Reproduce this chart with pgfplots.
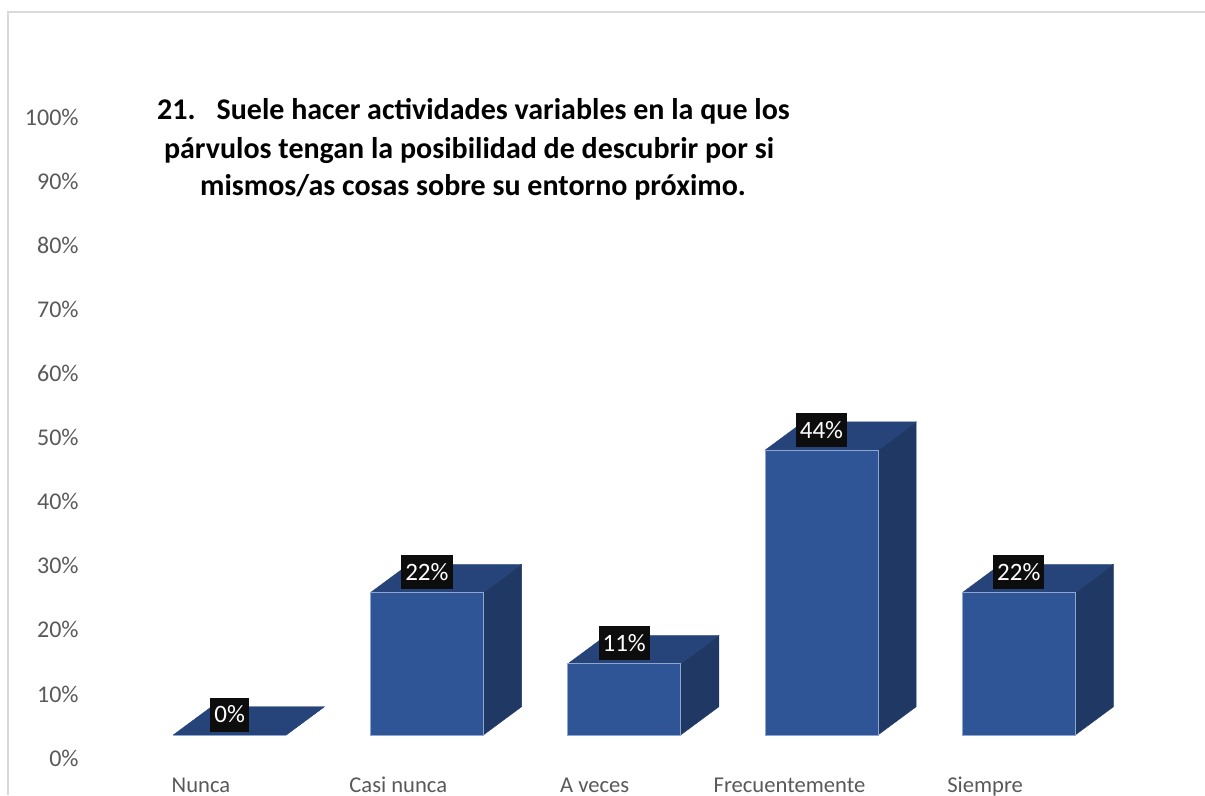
\documentclass[border=0pt]{standalone}
\usepackage{fontspec}
\setmainfont{Carlito}
\usepackage{pgfplots}
\usepackage{pgfplotstable}
\pgfplotsset{compat=1.18}

\definecolor{frontc}{HTML}{2F5597}
\definecolor{topc}{HTML}{264479}
\definecolor{sidec}{HTML}{1F3864}
\definecolor{edgec}{HTML}{8DA6D2}
\definecolor{labgray}{HTML}{595959}
\definecolor{framec}{HTML}{D9D9D9}

% 1 px of the reference = 0.5pt
\def\hw{0.2859}  % half bar width (axis units)
\def\dx{0.1941}  % depth offset in x
\def\dy{4.415}   % depth offset in y (percent)

\pgfplotstableread{
x y
0 0
1 22.22
2 11.11
3 44.44
4 22.22
}\datatable

% side and top faces of a 3d bar
\newcommand{\barfaces}[2]{%
  \pgfmathsetmacro\xl{#1-\hw}%
  \pgfmathsetmacro\xr{#1+\hw}%
  \pgfmathsetmacro\xlb{#1-\hw+\dx}%
  \pgfmathsetmacro\xrb{#1+\hw+\dx}%
  \pgfmathsetmacro\vt{#2+\dy}%
  \edef\temp{%
    \noexpand\addplot[fill=sidec,draw=sidec,line width=0.2pt] coordinates {(\xr,0) (\xrb,\dy) (\xrb,\vt) (\xr,#2)} --cycle;
    \noexpand\addplot[fill=topc,draw=topc,line width=0.2pt] coordinates {(\xl,#2) (\xr,#2) (\xrb,\vt) (\xlb,\vt)} --cycle;
  }\temp
}

\begin{document}
\begin{tikzpicture}
\begin{axis}[
  width=602.5pt, height=397.5pt, scale only axis,
  xmin=-1.16371, xmax=4.94374, ymin=-9.360, ymax=114.665,
  axis line style={draw=none}, tick style={draw=none},
  ytick={-3.59,6.41,16.41,26.41,36.41,46.41,56.41,66.41,76.41,86.41,96.41},
  yticklabels={0\%,10\%,20\%,30\%,40\%,50\%,60\%,70\%,80\%,90\%,100\%},
  yticklabel style={anchor=east, inner sep=0pt, xshift=39.5pt, text=labgray,
    font=\fontsize{12}{14}\selectfont},
  xtick={-0.145,0.855,1.850,2.838,3.829},
  xticklabels={Nunca,Casi nunca,A veces,Frecuentemente,Siempre},
  xticklabel style={anchor=base, inner sep=0pt, yshift=1.2pt, text=labgray,
    font=\fontsize{11.3}{13}\selectfont},
  clip=false,
]
\coordinate (bl) at (rel axis cs:0,0);
\coordinate (tr) at (rel axis cs:1,1);
\draw[framec, line width=0.8pt] (rel axis cs:0.00664,0) -- (rel axis cs:0.00664,0.98491) -- (rel axis cs:1.01,0.98491);

\barfaces{0}{0}
\barfaces{1}{22.22}
\barfaces{2}{11.11}
\barfaces{3}{44.44}
\barfaces{4}{22.22}

\addplot[ybar, bar width=0.5718, fill=frontc, draw=edgec, line width=0.3pt,
  nodes near coords={\pgfmathprintnumber[fixed,precision=0,assume math mode=true]{\pgfplotspointmeta}\%},
  every node near coord/.append style={fill=black!95, text=white, anchor=center,
    yshift=10.25pt, inner xsep=2pt, inner ysep=0pt, minimum height=17pt,
    font=\fontsize{12.5}{14}\selectfont}]
  table[x=x, y=y] {\datatable};

\node[anchor=base, font=\fontsize{15}{18}\selectfont\bfseries] at (rel axis cs:0.39295,0.84906)
  {21.\hspace{10.5pt}Suele hacer actividades variables en la que los};
\node[anchor=base, font=\fontsize{15}{18}\selectfont\bfseries] at (rel axis cs:0.38921,0.80126)
  {párvulos tengan la posibilidad de descubrir por si};
\node[anchor=base, font=\fontsize{15}{18}\selectfont\bfseries] at (rel axis cs:0.39253,0.75346)
  {mismos/as cosas sobre su entorno próximo.};
\end{axis}
\pgfresetboundingbox
\useasboundingbox (bl) rectangle (tr);
\end{tikzpicture}
\end{document}
